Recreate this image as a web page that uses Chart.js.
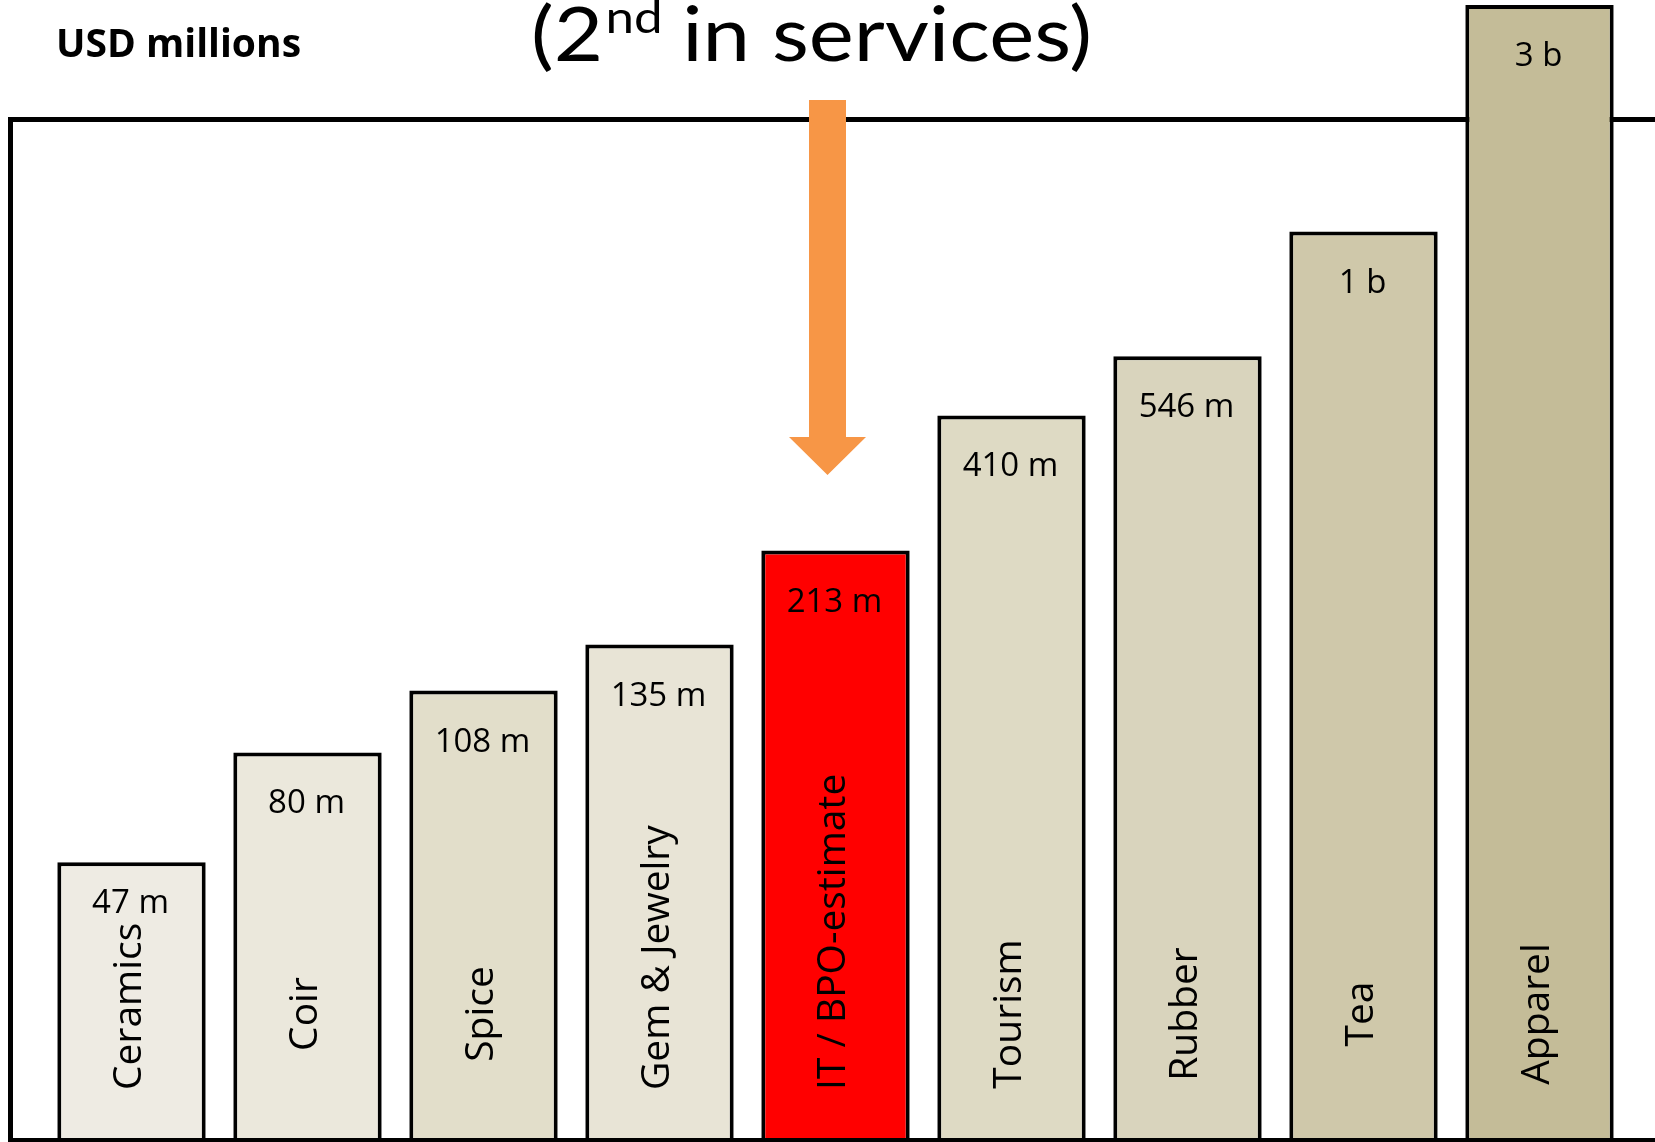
<!DOCTYPE html>
<html><head><meta charset="utf-8">
<script src="https://cdn.jsdelivr.net/npm/chart.js@4.4.0/dist/chart.umd.min.js"></script>
<style>html,body{margin:0;padding:0;background:#fff;overflow:hidden}canvas{display:block}</style>
</head><body>
<canvas id="c" width="1655" height="1142"></canvas>
<script>
// ---- data ----
const categories = ['Ceramics', 'Coir', 'Spice', 'Gem & Jewelry', 'IT / BPO-estimate', 'Tourism', 'Rubber', 'Tea', 'Apparel'];
const valuesUSDm = [47, 80, 108, 135, 213, 410, 546, 1000, 3000];
const valueLabels = ['47 m', '80 m', '108 m', '135 m', '213 m', '410 m', '546 m', '1 b', '3 b'];
const unitLabel = 'USD millions';
const titleParts = ['(2', 'nd', ' in services)'];
const highlightIndex = 4;

// ---- styles ----
const barColors = ['#EEEBE3', '#EBE8DC', '#E2DECA', '#E8E4D6', '#FF0000', '#DEDAC4', '#D9D4BD', '#CFC8AA', '#C4BC98'];
const arrowColor = '#F79646';

const overlay = {
  id: 'overlay',
  beforeDatasetsDraw(chart) {
    const ctx = chart.ctx;
    ctx.save();
    ctx.strokeStyle = '#000';
    ctx.lineWidth = 5;
    ctx.beginPath();
    ctx.moveTo(2000, 119.5);
    ctx.lineTo(10.5, 119.5);
    ctx.lineTo(10.5, 1140);
    ctx.stroke();
    ctx.restore();
  },
  afterDatasetsDraw(chart) {
    const ctx = chart.ctx;
    const meta = chart.getDatasetMeta(0);
    ctx.save();
    // bottom frame line
    ctx.strokeStyle = '#000';
    ctx.lineWidth = 4;
    ctx.beginPath();
    ctx.moveTo(8, 1140);
    ctx.lineTo(1655, 1140);
    ctx.stroke();

    ctx.fillStyle = '#000';
    meta.data.forEach((bar, i) => {
      // category label (rotated)
      ctx.font = '39px "Open Sans"';
      const len = ctx.measureText(categories[i]).width;
      let cy = 1014;
      if (cy + len / 2 > 1090) cy = 1090 - len / 2;
      const labelTop = cy - len / 2;
      ctx.save();
      ctx.translate(bar.x - 2, cy);
      ctx.rotate(-Math.PI / 2);
      ctx.textAlign = 'center';
      ctx.textBaseline = 'middle';
      ctx.fillText(categories[i], 0, 0);
      ctx.restore();
      // value label
      ctx.font = '33px "Open Sans"';
      ctx.textAlign = 'center';
      ctx.textBaseline = 'alphabetic';
      const vy = Math.min(bar.y + 61, labelTop - 10);
      ctx.fillText(valueLabels[i], bar.x - 1, vy);
    });

    // arrow pointing to highlighted bar
    const hb = meta.data[highlightIndex];
    const ax = hb.x - 8;
    ctx.fillStyle = arrowColor;
    ctx.beginPath();
    ctx.moveTo(ax - 18.5, 100);
    ctx.lineTo(ax + 18.5, 100);
    ctx.lineTo(ax + 18.5, 437);
    ctx.lineTo(ax + 38.5, 437);
    ctx.lineTo(ax, 475);
    ctx.lineTo(ax - 38.5, 437);
    ctx.lineTo(ax - 18.5, 437);
    ctx.closePath();
    ctx.fill();

    // unit label
    ctx.fillStyle = '#000';
    ctx.textAlign = 'left';
    ctx.textBaseline = 'alphabetic';
    ctx.font = 'bold 39px "Open Sans"';
    ctx.fillText(unitLabel, 56, 57);

    // title with superscript
    const big = '75px Lato', small = '45px Lato';
    ctx.font = big; const w1 = ctx.measureText(titleParts[0]).width;
    ctx.font = small; const w2 = ctx.measureText(titleParts[1]).width;
    ctx.font = big; const w3 = ctx.measureText(titleParts[2]).width;
    const target = 1092 - 531;
    const sx = target / (w1 + w2 + w3);
    ctx.save();
    ctx.translate(531, 0);
    ctx.scale(sx, 1);
    ctx.font = big; ctx.fillText(titleParts[0], 0, 61);
    ctx.font = small; ctx.fillText(titleParts[1], w1 + 2, 33);
    ctx.font = big; ctx.fillText(titleParts[2], w1 + w2, 61);
    ctx.restore();
    ctx.restore();
  }
};

function draw() {
  new Chart(document.getElementById('c'), {
    type: 'bar',
    data: {
      labels: categories,
      datasets: [{
        data: valuesUSDm,
        backgroundColor: barColors,
        borderColor: '#000',
        borderWidth: 4,
        borderSkipped: 'start',
        barPercentage: 0.843,
        categoryPercentage: 1
      }]
    },
    options: {
      responsive: false,
      animation: false,
      devicePixelRatio: 1,
      layout: { padding: { left: 43.5, right: 27.5, top: 5, bottom: 0 } },
      plugins: { legend: { display: false }, tooltip: { enabled: false }, title: { display: false } },
      scales: {
        x: { display: false, offset: true },
        y: { type: 'logarithmic', display: false, min: 12.1, max: 3000 }
      }
    },
    plugins: [overlay]
  });
}
Promise.all([
  document.fonts.load('33px "Open Sans"'),
  document.fonts.load('bold 39px "Open Sans"'),
  document.fonts.load('75px Lato')
]).then(draw, draw);
</script>
</body></html>
